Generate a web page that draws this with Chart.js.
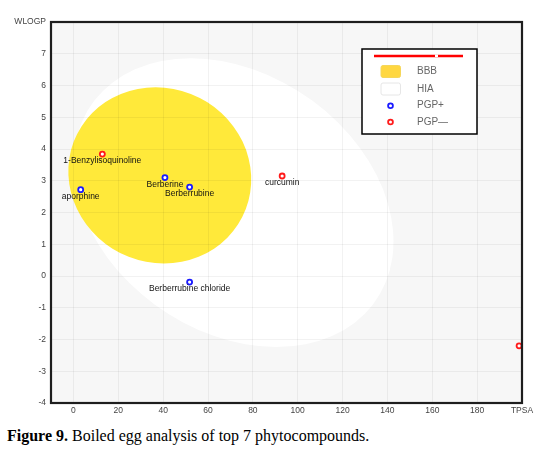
<!DOCTYPE html>
<html><head><meta charset="utf-8">
<script src="https://cdn.jsdelivr.net/npm/chart.js@4"></script>
<style>
html,body{margin:0;padding:0;background:#fff;}
#wrap{position:relative;width:547px;height:452px;}
#c{position:absolute;left:0;top:0;}
#cap{position:absolute;left:7px;top:428px;font-family:'Liberation Serif','Times New Roman',serif;font-size:16px;line-height:16px;color:#000;white-space:nowrap;}
</style></head><body>
<div id="wrap"><canvas id="c" width="547" height="418"></canvas>
<div id="cap"><b>Figure 9.</b> Boiled egg analysis of top 7 phytocompounds.</div></div>
<script>
// ---- data ----
const compoundNames = ['1-Benzylisoquinoline', 'aporphine', 'Berberine', 'Berberrubine', 'Berberrubine chloride', 'curcumin', ''];
const tpsa  = [12.89, 3.24, 40.80, 51.80, 51.80, 93.06, 198.7];
const wlogp = [3.84, 2.72, 3.10, 2.80, -0.19, 3.15, -2.20];
const pgpSubstrate = [false, true, true, true, true, false, false];
const seriesNames = ['PGP+', 'PGP\u2014'];
// regions (egg white / yolk): centre and two conjugate semi-diameters in (TPSA, WLOGP) units
const regionNames = ['BBB', 'HIA'];
const regionCentreTPSA  = [38.5, 71.4];
const regionCentreWLOGP = [3.17, 2.31];
const regionSemiA = [[40.73, 0], [68.7, 0]];
const regionSemiB = [[-1.885, 2.776], [-19.08, 4.546]];
const xTicks = [0, 20, 40, 60, 80, 100, 120, 140, 160, 180, 200];
const xTickLabels = ['0', '20', '40', '60', '80', '100', '120', '140', '160', '180', 'TPSA'];
const yTicks = [-4, -3, -2, -1, 0, 1, 2, 3, 4, 5, 6, 7, 8];
const yTickLabels = ['-4', '-3', '-2', '-1', '0', '1', '2', '3', '4', '5', '6', '7', 'WLOGP'];

// ---- styles ----
const regionFill = {BBB: '#ffe93a', HIA: '#ffffff'};
const regionSwatch = {BBB: '#ffd740', HIA: '#ffffff'};
const seriesColor = {'PGP+': '#1a1aff', 'PGP\u2014': '#ff1a1a'};
const SANS = "'Liberation Sans', Arial, sans-serif";

function pointsFor(flag) {
  const out = [];
  for (let i = 0; i < tpsa.length; i++) {
    if (pgpSubstrate[i] === flag) out.push({x: tpsa[i], y: wlogp[i], name: compoundNames[i]});
  }
  return out;
}

const eggPlugin = {
  id: 'egg',
  beforeDraw(chart) {
    const {ctx, chartArea: a, scales: {x, y}} = chart;
    ctx.save();
    ctx.fillStyle = '#f7f7f7';
    ctx.fillRect(a.left, a.top, a.right - a.left, a.bottom - a.top);
    ctx.beginPath();
    ctx.rect(a.left, a.top, a.right - a.left, a.bottom - a.top);
    ctx.clip();
    // draw HIA first, then BBB
    for (const idx of [1, 0]) {
      const cx = regionCentreTPSA[idx], cy = regionCentreWLOGP[idx];
      const C = [x.getPixelForValue(cx), y.getPixelForValue(cy)];
      const A = regionSemiA[idx], B = regionSemiB[idx];
      const V = [x.getPixelForValue(cx + A[0]) - C[0], y.getPixelForValue(cy + A[1]) - C[1]];
      const U = [x.getPixelForValue(cx + B[0]) - C[0], y.getPixelForValue(cy + B[1]) - C[1]];
      ctx.save();
      ctx.transform(V[0], V[1], U[0], U[1], C[0], C[1]);
      ctx.beginPath();
      ctx.arc(0, 0, 1, 0, Math.PI * 2);
      ctx.restore();
      ctx.fillStyle = regionFill[regionNames[idx]];
      ctx.fill();
    }
    ctx.restore();
  },
  afterDatasetsDraw(chart) {
    const {ctx, chartArea: a} = chart;
    ctx.save();
    // frame
    ctx.strokeStyle = '#1e1e1e';
    ctx.lineWidth = 2.2;
    ctx.strokeRect(a.left, a.top, a.right - a.left, a.bottom - a.top);
    // point labels
    ctx.font = '8.5px ' + SANS;
    ctx.fillStyle = '#111';
    ctx.textAlign = 'center';
    ctx.textBaseline = 'middle';
    chart.data.datasets.forEach((ds, di) => {
      const meta = chart.getDatasetMeta(di);
      meta.data.forEach((pt, i) => {
        const name = ds.data[i].name;
        if (name) ctx.fillText(name, pt.x, pt.y + 7);
      });
    });
    ctx.restore();
  },
  afterDraw(chart, args, o) {
    const {ctx} = chart;
    const b = o.box;
    ctx.save();
    ctx.fillStyle = '#fff';
    ctx.fillRect(b.left, b.top, b.right - b.left, b.bottom - b.top);
    ctx.strokeStyle = '#000';
    ctx.lineWidth = 1.5;
    ctx.strokeRect(b.left, b.top, b.right - b.left, b.bottom - b.top);
    // red title line
    ctx.strokeStyle = '#ff0000';
    ctx.lineWidth = 2.5;
    ctx.beginPath();
    ctx.moveTo(b.left + 12, b.top + 7);
    ctx.lineTo(b.right - 14, b.top + 7);
    ctx.stroke();
    ctx.fillStyle = '#fff';
    ctx.fillRect(b.left + 73, b.top + 5.5, 3, 2.5);
    const items = [
      {t: regionNames[0], kind: 'box', fill: regionSwatch[regionNames[0]], stroke: '#f5d65a'},
      {t: regionNames[1], kind: 'box', fill: regionSwatch[regionNames[1]], stroke: '#e6e6e6'},
      {t: seriesNames[0], kind: 'pt', color: seriesColor[seriesNames[0]]},
      {t: seriesNames[1], kind: 'pt', color: seriesColor[seriesNames[1]]}
    ];
    const rows = [b.top + 22.5, b.top + 40, b.top + 56.7, b.top + 73];
    ctx.font = '10px ' + SANS;
    ctx.textBaseline = 'middle';
    ctx.textAlign = 'left';
    items.forEach((it, i) => {
      const yy = rows[i];
      if (it.kind === 'box') {
        ctx.beginPath();
        ctx.roundRect(b.left + 19, yy - 6, 19.5, 12, 2);
        ctx.fillStyle = it.fill; ctx.fill();
        ctx.strokeStyle = it.stroke; ctx.lineWidth = 1; ctx.stroke();
      } else {
        ctx.beginPath();
        ctx.arc(b.left + 28.5, yy, 2.4, 0, Math.PI * 2);
        ctx.fillStyle = '#fff'; ctx.fill();
        ctx.strokeStyle = it.color; ctx.lineWidth = 1.8; ctx.stroke();
      }
      ctx.fillStyle = '#666';
      ctx.fillText(it.t, b.left + 55, yy);
    });
    ctx.restore();
  }
};

const ds = (name, flag) => ({
  label: name,
  data: pointsFor(flag),
  pointRadius: 2.5,
  pointBorderWidth: 1.8,
  pointBackgroundColor: '#fff',
  pointBorderColor: seriesColor[name],
  showLine: false,
  clip: false
});

new Chart(document.getElementById('c'), {
  type: 'scatter',
  data: {datasets: [ds(seriesNames[0], true), ds(seriesNames[1], false)]},
  plugins: [eggPlugin],
  options: {
    responsive: false,
    animation: false,
    devicePixelRatio: 1,
    layout: {padding: {top: 22, right: 25, left: 0, bottom: 0}},
    plugins: {
      legend: {display: false},
      tooltip: {enabled: false},
      egg: {box: {left: 362, top: 49, right: 477, bottom: 134}}
    },
    scales: {
      x: {
        type: 'linear', min: -10, max: 200,
        afterBuildTicks: s => { s.ticks = xTicks.map(v => ({value: v})); },
        afterFit: s => { s.height = 15; },
        grid: {color: 'rgba(0,0,0,0.05)', drawTicks: false},
        border: {display: false},
        ticks: {
          padding: 3, color: '#444', font: {size: 8.5, family: SANS},
          maxRotation: 0, autoSkip: false,
          callback: v => xTickLabels[xTicks.indexOf(v)]
        }
      },
      y: {
        type: 'linear', min: -4, max: 8,
        afterBuildTicks: s => { s.ticks = yTicks.map(v => ({value: v})); },
        afterFit: s => { s.width = 51; },
        grid: {color: 'rgba(0,0,0,0.05)', drawTicks: false},
        border: {display: false},
        ticks: {
          padding: 5, color: '#444', font: {size: 8.5, family: SANS},
          autoSkip: false,
          callback: v => yTickLabels[yTicks.indexOf(v)]
        }
      }
    }
  }
});
</script>
</body></html>
